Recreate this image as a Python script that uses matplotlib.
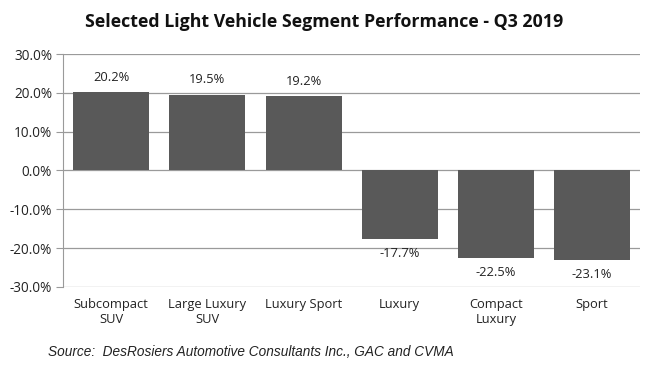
import matplotlib.pyplot as plt
import numpy as np

# data
categories = ["Subcompact\nSUV", "Large Luxury\nSUV", "Luxury Sport", "Luxury", "Compact\nLuxury", "Sport"]
values = [20.2, 19.5, 19.2, -17.7, -22.5, -23.1]
yticks = [-30, -20, -10, 0, 10, 20, 30]

plt.rcParams['font.family'] = ['Open Sans', 'DejaVu Sans']

fig = plt.figure(figsize=(6.5, 3.73), dpi=100)
ax = fig.add_axes([0.097, 0.231, 0.888, 0.624])

x = np.arange(len(categories))
ax.bar(x, values, width=0.79, color="#595959", zorder=3)

for xi, v in zip(x, values):
    off = 6 if v > 0 else -6
    ax.annotate(f"{v:.1f}%", (xi, v), xytext=(0, off), textcoords="offset points",
                ha="center", va="bottom" if v > 0 else "top", fontsize=9.3, color="#222222")

ax.set_xlim(-0.5, len(categories) - 0.5)
ax.set_ylim(-30, 30)
ax.set_yticks(yticks)
ax.set_yticklabels([f"{t:.1f}%" for t in yticks], fontsize=9.8, color="#222222")
ax.yaxis.grid(True, color="#9a9a9a", linewidth=0.9, zorder=0)
ax.set_xticks(x)
ax.set_xticklabels(categories, fontsize=9.3, color="#222222")
ax.tick_params(axis="x", length=0, pad=8)
ax.tick_params(axis="y", length=5, color="#9a9a9a", pad=3)

for s in ["top", "right", "bottom"]:
    ax.spines[s].set_visible(False)
ax.spines["left"].set_color("#9a9a9a")

fig.text(0.499, 0.94, "Selected Light Vehicle Segment Performance - Q3 2019",
         ha="center", va="center", fontsize=12.8, fontweight="bold", color="#111111")
fig.text(0.074, 0.057, "Source:  DesRosiers Automotive Consultants Inc., GAC and CVMA",
         ha="left", va="center", fontsize=9.8, style="italic", family="Liberation Sans", color="#222222")

fig.savefig("out.png", dpi=100)
